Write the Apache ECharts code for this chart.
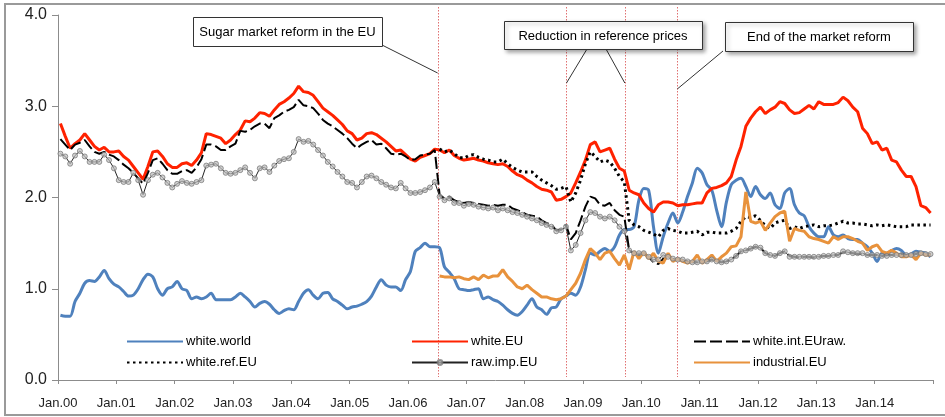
<!DOCTYPE html>
<html><head><meta charset="utf-8">
<script src="https://cdn.jsdelivr.net/npm/echarts@6/dist/echarts.min.js"></script>
<style>html,body{margin:0;padding:0;background:#fff}#c{width:945px;height:417px}</style>
</head><body><div id="c"></div>
<script>
// ---------- DATA ----------
const tickLabels = ['Jan.00','Jan.01','Jan.02','Jan.03','Jan.04','Jan.05','Jan.06','Jan.07','Jan.08','Jan.09','Jan.10','Jan.11','Jan.12','Jan.13','Jan.14'];
const seriesNames = ['white.world','white.EU','white.int.EUraw.','white.ref.EU','raw.imp.EU','industrial.EU'];
// monthly values Jan.00 .. Dec.14
const whiteWorld = [
0.71,0.70,0.70,0.86,0.95,1.06,1.09,1.08,1.13,1.20,
1.11,1.05,1.02,0.97,0.92,0.93,1.00,1.10,1.16,1.13,
1.00,0.93,1.00,1.02,1.08,1.00,0.98,0.89,0.91,0.89,
0.91,0.95,0.88,0.88,0.88,0.88,0.91,0.95,0.91,0.86,
0.80,0.84,0.86,0.83,0.77,0.73,0.76,0.78,0.77,0.86,
0.95,0.99,0.93,0.89,0.95,0.96,0.89,0.86,0.82,0.78,
0.80,0.81,0.83,0.86,0.92,1.02,1.10,1.04,1.02,1.02,
0.98,1.10,1.19,1.41,1.45,1.50,1.46,1.46,1.45,1.24,
1.18,1.11,1.00,0.99,0.98,0.99,1.00,0.89,0.91,0.88,
0.86,0.82,0.77,0.73,0.71,0.75,0.82,0.89,0.80,0.77,
0.72,0.79,0.80,0.89,0.92,0.95,0.93,1.02,1.21,1.39,
1.37,1.41,1.44,1.41,1.46,1.59,1.65,1.65,1.68,1.97,
2.10,2.08,1.68,1.39,1.57,1.72,1.83,1.72,1.84,2.01,
2.16,2.32,2.27,2.14,2.08,1.86,1.68,1.95,2.14,2.19,
2.21,2.12,2.01,2.12,2.03,1.99,2.05,1.92,1.88,2.05,
2.10,1.92,1.83,1.80,1.68,1.61,1.57,1.57,1.68,1.59,
1.57,1.59,1.55,1.54,1.54,1.50,1.46,1.39,1.30,1.39,
1.39,1.42,1.44,1.42,1.37,1.38,1.41,1.40,1.39,1.35];
const whiteEU = [
2.81,2.67,2.54,2.59,2.63,2.70,2.63,2.56,2.52,2.55,
2.50,2.50,2.51,2.45,2.41,2.34,2.27,2.20,2.34,2.50,
2.51,2.45,2.37,2.33,2.33,2.37,2.38,2.35,2.41,2.49,
2.70,2.69,2.67,2.65,2.59,2.63,2.69,2.74,2.84,2.83,
2.87,2.93,2.92,2.89,2.96,3.02,3.05,3.09,3.14,3.22,
3.16,3.15,3.12,3.05,2.98,2.94,2.90,2.85,2.80,2.73,
2.70,2.63,2.65,2.70,2.71,2.69,2.65,2.61,2.56,2.51,
2.52,2.47,2.42,2.40,2.44,2.46,2.48,2.53,2.52,2.49,
2.52,2.46,2.43,2.41,2.42,2.43,2.41,2.40,2.38,2.37,
2.36,2.37,2.34,2.29,2.25,2.23,2.19,2.16,2.12,2.09,
2.08,2.06,1.97,1.98,2.01,2.05,2.16,2.28,2.41,2.58,
2.61,2.50,2.52,2.54,2.42,2.32,2.29,2.08,2.05,2.03,
1.94,1.88,1.84,1.92,1.95,1.95,1.94,1.91,1.92,1.92,
1.93,1.94,1.94,2.05,2.10,2.11,2.13,2.16,2.23,2.41,
2.56,2.78,2.87,2.94,2.99,2.92,2.96,2.99,3.05,3.03,
2.96,2.92,2.93,2.97,3.01,2.97,3.05,3.02,3.02,3.02,
3.04,3.10,3.06,2.99,2.94,2.76,2.70,2.59,2.61,2.52,
2.54,2.41,2.39,2.30,2.23,2.23,2.12,1.91,1.89,1.83];
const whiteIntEUraw = [
2.64,2.58,2.52,2.58,2.60,2.63,2.56,2.50,2.48,2.50,
2.47,2.45,2.41,2.36,2.32,2.27,2.21,2.15,2.27,2.41,
2.43,2.37,2.30,2.26,2.26,2.29,2.30,2.27,2.33,2.42,
2.58,2.58,2.56,2.52,2.52,2.56,2.59,2.73,2.72,2.74,
2.78,2.81,2.81,2.76,2.87,2.90,2.94,2.96,2.99,3.07,
3.01,3.00,2.98,2.92,2.85,2.81,2.78,2.74,2.70,2.65,
2.59,2.54,2.58,2.61,2.63,2.58,2.59,2.54,2.48,2.47,
2.48,2.45,2.41,2.42,2.46,2.47,2.48,2.52,2.03,1.99,
2.01,1.97,1.95,1.94,1.95,1.94,1.93,1.92,1.91,1.92,
1.91,1.92,1.92,1.88,1.86,1.84,1.81,1.80,1.79,1.75,
1.72,1.70,1.64,1.65,1.70,1.54,1.61,1.75,1.90,2.01,
1.99,1.92,1.91,1.94,1.86,1.81,1.79,1.42,1.39,1.37,
1.39,1.35,1.29,1.27,1.33,1.33,1.32,1.32,1.32,1.30,
1.29,1.29,1.30,1.30,1.32,1.30,1.29,1.30,1.32,1.36,
1.41,1.42,1.44,1.46,1.45,1.39,1.37,1.36,1.39,1.41,
1.36,1.35,1.34,1.35,1.35,1.34,1.35,1.36,1.36,1.37,
1.37,1.40,1.40,1.39,1.38,1.38,1.37,1.37,1.37,1.36,
1.37,1.37,1.37,1.38,1.37,1.37,1.38,1.39,1.38,1.38];
const rawImpEU = [
2.48,2.45,2.37,2.46,2.51,2.45,2.39,2.39,2.39,2.47,
2.41,2.32,2.19,2.17,2.17,2.27,2.19,2.03,2.19,2.25,
2.27,2.22,2.16,2.11,2.15,2.18,2.16,2.15,2.17,2.19,
2.35,2.36,2.37,2.32,2.27,2.26,2.27,2.30,2.33,2.27,
2.21,2.32,2.33,2.28,2.35,2.40,2.42,2.43,2.50,2.64,
2.61,2.62,2.58,2.52,2.46,2.39,2.34,2.28,2.23,2.17,
2.16,2.11,2.17,2.23,2.24,2.21,2.17,2.14,2.11,2.10,
2.16,2.10,2.05,2.05,2.06,2.08,2.11,2.17,2.01,1.97,
1.99,1.94,1.94,1.91,1.93,1.92,1.90,1.89,1.88,1.89,
1.86,1.88,1.86,1.84,1.83,1.81,1.79,1.77,1.75,1.72,
1.70,1.68,1.63,1.64,1.68,1.42,1.48,1.61,1.75,1.84,
1.83,1.79,1.77,1.79,1.75,1.68,1.63,1.42,1.39,1.39,
1.39,1.35,1.32,1.32,1.37,1.35,1.33,1.32,1.32,1.30,
1.29,1.29,1.30,1.30,1.32,1.30,1.29,1.30,1.32,1.36,
1.41,1.42,1.44,1.46,1.45,1.39,1.37,1.36,1.39,1.41,
1.35,1.35,1.35,1.35,1.35,1.35,1.35,1.36,1.36,1.37,
1.37,1.41,1.40,1.39,1.39,1.39,1.37,1.37,1.37,1.36,
1.36,1.37,1.37,1.37,1.37,1.37,1.38,1.39,1.38,1.38];
// these two series start at the reform (Jul.06)
const reformStartMonth = 78;
const whiteRefEU = [
2.53,2.50,2.52,2.48,2.44,2.43,2.46,2.47,2.44,2.42,2.41,2.39,
2.39,2.42,2.37,2.33,2.30,2.28,2.28,2.28,2.23,2.19,
2.16,2.13,2.09,2.10,2.12,1.95,2.05,2.19,2.37,2.50,
2.45,2.39,2.41,2.39,2.32,2.23,2.17,1.75,1.70,1.68,
1.64,1.62,1.60,1.57,1.64,1.66,1.64,1.63,1.61,1.61,
1.62,1.63,1.59,1.62,1.62,1.61,1.61,1.61,1.63,1.66,
1.74,1.79,1.78,1.80,1.75,1.69,1.66,1.72,1.74,1.75,
1.66,1.68,1.66,1.68,1.69,1.70,1.68,1.69,1.69,1.70,
1.72,1.74,1.72,1.72,1.71,1.71,1.70,1.69,1.70,1.69,
1.70,1.69,1.68,1.68,1.68,1.70,1.70,1.70,1.70,1.70];
const industrialEU = [
1.14,1.13,1.13,1.12,1.13,1.11,1.10,1.13,1.10,1.15,1.12,1.14,
1.14,1.21,1.13,1.08,1.02,1.00,1.04,0.99,0.95,0.91,
0.91,0.89,0.88,0.89,0.92,0.99,1.06,1.17,1.32,1.44,
1.39,1.32,1.39,1.41,1.33,1.26,1.37,1.21,1.41,1.33,
1.40,1.33,1.39,1.30,1.28,1.39,1.30,1.33,1.30,1.28,
1.30,1.37,1.28,1.32,1.37,1.30,1.35,1.39,1.46,1.47,
1.57,2.06,1.74,1.72,1.74,1.64,1.72,1.79,1.83,1.85,
1.52,1.66,1.64,1.63,1.57,1.55,1.54,1.52,1.50,1.57,
1.54,1.57,1.57,1.55,1.52,1.50,1.42,1.46,1.48,1.41,
1.39,1.42,1.39,1.35,1.35,1.37,1.32,1.39,1.37,1.37];
// policy events (month index from Jan.00)
const eventMonths = [78.1, 104.6, 116.6, 127.4];
const eventTexts = ['Sugar market reform in the EU','Reduction in reference prices','End of the market reform'];

// ---------- CHART ----------
const FONT = '"Liberation Sans", Arial, Helvetica, sans-serif';
const chart = echarts.init(document.getElementById('c'), null, {renderer:'canvas'});
const toPts = (arr, start) => arr.map((v, i) => [start + i + 0.5, v]);
const monthsTotal = tickLabels.length * 12;
const withMarker = {4: true};
const legendItem = idx => withMarker[idx] ? {name: seriesNames[idx]} : {name: seriesNames[idx], itemStyle: {opacity: 0}};

const option = {
  animation: false,
  backgroundColor: '#fff',
  grid: {left: 58, right: 12, top: 15, bottom: 37, containLabel: false},
  xAxis: {
    type: 'value', min: 0, max: monthsTotal, interval: 12,
    axisLine: {show: true, lineStyle: {color: '#8c8c8c', width: 1}},
    axisTick: {show: true, length: 4, lineStyle: {color: '#8c8c8c'}},
    splitLine: {show: false},
    axisLabel: {
      margin: 17, fontSize: 13, color: '#222', fontFamily: FONT,
      formatter: v => tickLabels[Math.round(v / 12)] || ''
    }
  },
  yAxis: {
    type: 'value', min: 0, max: 4, interval: 1,
    axisLine: {show: true, lineStyle: {color: '#8c8c8c', width: 1}},
    axisTick: {show: true, length: 6, lineStyle: {color: '#8c8c8c'}},
    splitLine: {show: false},
    axisLabel: {margin: 11, fontSize: 16, color: '#222', fontFamily: FONT, formatter: v => v.toFixed(1)}
  },
  legend: [[0, 3], [1, 4], [2, 5]].map((pair, k) => ({
    data: pair.map(legendItem),
    orient: 'vertical', left: [126, 411, 693][k], top: 335,
    itemWidth: 56, itemHeight: 6, itemGap: 8, padding: 0,
    textStyle: {fontSize: 13, color: '#000', fontFamily: FONT, padding: [0, 0, 0, -2]}
  })),
  series: [
    {name: seriesNames[0], type: 'line', data: toPts(whiteWorld, 0), symbol: 'none', smooth: 0.3,
     lineStyle: {color: '#4f81bd', width: 3}, itemStyle: {color: '#4f81bd'}},
    {name: seriesNames[1], type: 'line', data: toPts(whiteEU, 0), symbol: 'none',
     lineStyle: {color: '#ff2200', width: 3}, itemStyle: {color: '#ff2200'}},
    {name: seriesNames[2], type: 'line', data: toPts(whiteIntEUraw, 0), symbol: 'none',
     lineStyle: {color: '#000', width: 2, type: [12, 4]}, itemStyle: {color: '#000'}},
    {name: seriesNames[3], type: 'line', data: toPts(whiteRefEU, reformStartMonth), symbol: 'none',
     lineStyle: {color: '#000', width: 3, type: [2.5, 3.5]}, itemStyle: {color: '#000'}},
    {name: seriesNames[4], type: 'line', data: toPts(rawImpEU, 0), symbol: 'circle', symbolSize: 5,
     showSymbol: true, showAllSymbol: true,
     lineStyle: {color: '#222', width: 1},
     itemStyle: {color: 'rgba(190,190,190,0.7)', borderColor: 'rgba(120,120,120,0.75)', borderWidth: 1}},
    {name: seriesNames[5], type: 'line', data: toPts(industrialEU, reformStartMonth), symbol: 'none',
     lineStyle: {color: '#e8923c', width: 3}, itemStyle: {color: '#e8923c'}}
  ]
};
chart.setOption(option);

// ---------- ANNOTATIONS ----------
const px = m => chart.convertToPixel({xAxisIndex: 0}, m);
const py = v => chart.convertToPixel({yAxisIndex: 0}, v);
const yTop = py(4) - 8, yBot = py(0) - 3;
const boxes = [
  {x: 193, y: 17, w: 189, h: 29, text: eventTexts[0], shadow: false},
  {x: 504, y: 21, w: 198, h: 28, text: eventTexts[1], shadow: true},
  {x: 725, y: 22, w: 188, h: 29, text: eventTexts[2], shadow: true}
];
const g = [];
g.push({type: 'rect', silent: true, z: 0, shape: {x: 5, y: 4, width: 960, height: 411},
        style: {fill: 'none', stroke: '#9a9a9a', lineWidth: 2}});
eventMonths.forEach(m => {
  const x = Math.round(px(m)) + 0.5;
  g.push({type: 'line', silent: true, z: 1, shape: {x1: x, y1: yTop, x2: x, y2: yBot},
          style: {stroke: '#e07070', lineWidth: 1, lineDash: [1.5, 1.5]}});
});
const leaders = [
  [382, 45, eventMonths[0], 73],
  [587, 49, eventMonths[1], 83],
  [606, 49, eventMonths[2], 83],
  [723, 51, eventMonths[3], 89]
];
leaders.forEach(([x1, y1, m, y2]) => {
  g.push({type: 'line', silent: true, z: 20, shape: {x1, y1, x2: px(m), y2},
          style: {stroke: '#333', lineWidth: 1}});
});
boxes.forEach(b => {
  g.push({type: 'rect', silent: true, z: 21, shape: {x: b.x + 0.5, y: b.y + 0.5, width: b.w, height: b.h},
          style: Object.assign({fill: '#fff', stroke: '#333', lineWidth: 1},
            b.shadow ? {shadowBlur: 4, shadowOffsetX: 2, shadowOffsetY: 2, shadowColor: 'rgba(0,0,0,0.35)'} : {})});
  g.push({type: 'text', silent: true, z: 22, x: b.x + b.w / 2, y: b.y + b.h / 2 + 1,
          style: {text: b.text, font: '13px ' + FONT, fill: '#000',
                  align: 'center', verticalAlign: 'middle', textAlign: 'center', textVerticalAlign: 'middle'}});
});
chart.setOption({graphic: {elements: g}});
</script>
</body></html>
